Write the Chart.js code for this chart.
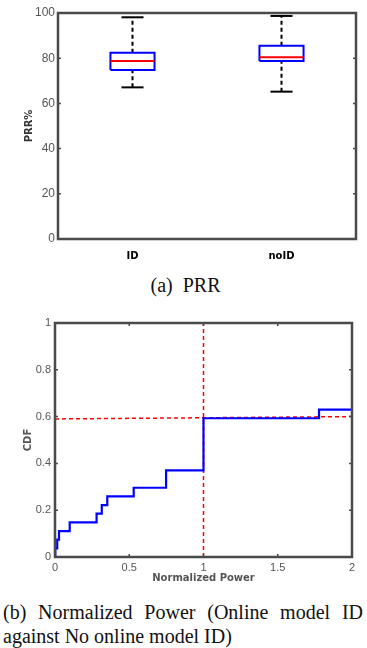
<!DOCTYPE html>
<html lang="en">
<head>
  <meta charset="UTF-8" />
  <title>PRR and Normalized Power</title>
  <style>
    body { margin: 0; background: #fff; width: 367px; height: 648px; position: relative; overflow: hidden; }
    .chart-box { position: absolute; left: 0; width: 367px; }
    .caption { position: absolute; font-family: "Liberation Serif", "Times New Roman", serif; font-size: 20px; color: #111; }
  </style>
</head>
<body>
  <div class="chart-box" style="top:0;height:262px;"><canvas id="prrChart"></canvas></div>
  <div class="caption" style="top:274px;left:2px;width:367px;text-align:center;">(a)&nbsp; PRR</div>
  <div class="chart-box" style="top:310px;height:280px;"><canvas id="cdfChart"></canvas></div>
  <div class="caption" style="top:600px;left:3px;width:360px;text-align:justify;line-height:24px;">(b) Normalized Power (Online model ID against No online model ID)</div>

  <script src="https://cdn.jsdelivr.net/npm/chart.js"></script>
  <script>
    // (a) PRR box plot values
    const groups = ['ID', 'noID'];
    const whiskerLow = [67.1, 65.2];
    const q1 = [74.8, 78.8];
    const median = [78.8, 80.4];
    const q3 = [82.4, 85.5];
    const whiskerHigh = [98.1, 98.7];
    const prrTicks = [0, 20, 40, 60, 80, 100];

    // (b) empirical CDF of normalized power
    const powerX = [0, 0.002, 0.015, 0.027, 0.099, 0.28, 0.315, 0.352, 0.53, 0.748, 1.0, 1.778, 2];
    const cdfY = [0, 0.037, 0.074, 0.111, 0.148, 0.185, 0.222, 0.259, 0.296, 0.37, 0.593, 0.63, 0.63];
    const vRefX = [1, 1];
    const vRefY = [0, 1];
    const hRefX = [0, 2];
    const hRefY = [0.59, 0.6];
    const powerTicks = [0, 0.5, 1, 1.5, 2];
    const cdfTicks = [0, 0.2, 0.4, 0.6, 0.8, 1];

    const tickFont = { family: '"Liberation Sans", Arial, sans-serif' };
    const titleFont = { family: '"DejaVu Sans", sans-serif', size: 10, weight: 'bold' };
    const plain = v => String(Number(v.toFixed(2)));

    // frame round the plot + small inside tick marks (MATLAB look)
    const framePlugin = {
      id: 'frame',
      afterDatasetsDraw(chart, args, opts) {
        const { ctx, chartArea: a, scales } = chart;
        ctx.save();
        ctx.strokeStyle = '#4a4a4a';
        ctx.lineWidth = 1.5;
        ctx.beginPath();
        scales.y.ticks.forEach(t => {
          const py = scales.y.getPixelForValue(t.value);
          ctx.moveTo(a.left, py); ctx.lineTo(a.left + 3, py);
          ctx.moveTo(a.right, py); ctx.lineTo(a.right - 3, py);
        });
        if (opts.xTicks) {
          scales.x.ticks.forEach(t => {
            const px = scales.x.getPixelForValue(t.value);
            ctx.moveTo(px, a.bottom); ctx.lineTo(px, a.bottom - 3);
            ctx.moveTo(px, a.top); ctx.lineTo(px, a.top + 3);
          });
        }
        ctx.stroke();
        ctx.lineWidth = 2.5;
        ctx.strokeRect(a.left, a.top, a.width, a.height);
        ctx.restore();
      }
    };

    // build box plot pieces as line datasets
    const boxHalf = 0.148, capHalf = 0.074;
    const seg = (data, color, dash) => ({
      data, showLine: true, borderColor: color, borderWidth: 2, borderDash: dash || [],
      pointRadius: 0, fill: false
    });
    const medians = [], boxes = [], whiskers = [];
    groups.forEach((g, i) => {
      const p = i + 1;
      medians.push(seg([{ x: p - boxHalf, y: median[i] }, { x: p + boxHalf, y: median[i] }], '#ff0000'));
      boxes.push(seg([
        { x: p - boxHalf, y: q1[i] }, { x: p + boxHalf, y: q1[i] },
        { x: p + boxHalf, y: q3[i] }, { x: p - boxHalf, y: q3[i] }, { x: p - boxHalf, y: q1[i] }
      ], '#0000ff'));
      whiskers.push(seg([{ x: p, y: q3[i] }, { x: p, y: whiskerHigh[i] }], '#000', [4, 3]));
      whiskers.push(seg([{ x: p, y: whiskerLow[i] }, { x: p, y: q1[i] }], '#000', [4, 3]));
      whiskers.push(seg([{ x: p - capHalf, y: whiskerHigh[i] }, { x: p + capHalf, y: whiskerHigh[i] }], '#000'));
      whiskers.push(seg([{ x: p - capHalf, y: whiskerLow[i] }, { x: p + capHalf, y: whiskerLow[i] }], '#000'));
    });

    new Chart(document.getElementById('prrChart'), {
      type: 'scatter',
      data: { datasets: [...medians, ...boxes, ...whiskers] },
      plugins: [framePlugin],
      options: {
        responsive: true,
        maintainAspectRatio: false,
        animation: false,
        layout: { padding: { top: 13, right: 11, left: 0, bottom: 0 } },
        plugins: { legend: { display: false }, tooltip: { enabled: false }, frame: { xTicks: false } },
        scales: {
          x: {
            type: 'linear', min: 0.5, max: 2.5,
            grid: { display: false, drawTicks: false },
            border: { display: false },
            afterBuildTicks: s => { s.ticks = groups.map((g, i) => ({ value: i + 1 })); },
            afterFit: s => { s.height = 23; },
            ticks: {
              padding: 11, color: '#000', font: { family: '"DejaVu Sans", sans-serif', size: 10, weight: 'bold' },
              callback: v => groups[v - 1]
            }
          },
          y: {
            min: 0, max: 100,
            grid: { display: false, drawTicks: false },
            border: { display: false },
            afterBuildTicks: s => { s.ticks = prrTicks.map(v => ({ value: v })); },
            afterFit: s => { s.width = 58; },
            ticks: { padding: 3, color: '#555', font: { ...tickFont, size: 12 }, callback: plain },
            title: { display: true, text: 'PRR%', color: '#333', font: titleFont, padding: { top: 23, bottom: 0 } }
          }
        }
      }
    });

    new Chart(document.getElementById('cdfChart'), {
      type: 'scatter',
      data: {
        datasets: [
          {
            data: powerX.map((x, i) => ({ x, y: cdfY[i] })),
            showLine: true, stepped: 'before', borderColor: '#0000ff', borderWidth: 2.2, pointRadius: 0, fill: false
          },
          {
            data: vRefX.map((x, i) => ({ x, y: vRefY[i] })),
            showLine: true, borderColor: '#ff0000', borderWidth: 1.5, borderDash: [4, 3], pointRadius: 0
          },
          {
            data: hRefX.map((x, i) => ({ x, y: hRefY[i] })),
            showLine: true, borderColor: '#ff0000', borderWidth: 1.5, borderDash: [4, 3], pointRadius: 0
          }
        ]
      },
      plugins: [framePlugin],
      options: {
        responsive: true,
        maintainAspectRatio: false,
        animation: false,
        layout: { padding: { top: 13, right: 15, left: 0, bottom: 0 } },
        plugins: { legend: { display: false }, tooltip: { enabled: false }, frame: { xTicks: true } },
        scales: {
          x: {
            type: 'linear', min: 0, max: 2,
            grid: { display: false, drawTicks: false },
            border: { display: false },
            afterBuildTicks: s => { s.ticks = powerTicks.map(v => ({ value: v })); },
            afterFit: s => { s.height = 33; },
            ticks: { padding: 4, color: '#555', font: { ...tickFont, size: 11 }, callback: plain },
            title: { display: true, text: 'Normalized Power', color: '#555', font: titleFont, padding: { top: 0, bottom: 6 } }
          },
          y: {
            min: 0, max: 1,
            grid: { display: false, drawTicks: false },
            border: { display: false },
            afterBuildTicks: s => { s.ticks = cdfTicks.map(v => ({ value: v })); },
            afterFit: s => { s.width = 55; },
            ticks: { padding: 4, color: '#555', font: { ...tickFont, size: 11 }, callback: plain },
            title: { display: true, text: 'CDF', color: '#555', font: titleFont, padding: { top: 22, bottom: 0 } }
          }
        }
      }
    });
  </script>
</body>
</html>
